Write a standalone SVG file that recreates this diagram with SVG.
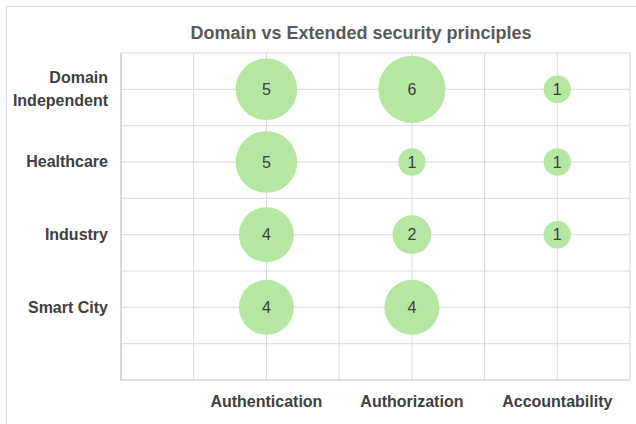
<svg xmlns="http://www.w3.org/2000/svg" width="636" height="424" viewBox="0 0 636 424">
<style>
.grid{stroke:#d9d9d9;stroke-width:1;fill:none}
.axis{stroke:#bfbfbf;stroke-width:1.2;fill:none}
.bub{fill:#b5e6a2}
.val{font-family:"Liberation Sans Narrow","Liberation Sans",sans-serif;font-size:16px;fill:#404040;text-anchor:middle}
.ylab{font-family:"Liberation Sans Narrow","Liberation Sans",sans-serif;font-size:16px;font-weight:bold;fill:#404040;text-anchor:end}
.xlab{font-family:"Liberation Sans Narrow","Liberation Sans",sans-serif;font-size:16px;font-weight:bold;fill:#404040;text-anchor:middle}
.title{font-family:"Liberation Sans Narrow","Liberation Sans",sans-serif;font-size:18px;font-weight:bold;fill:#595959;text-anchor:middle}
</style>
<rect x="0" y="0" width="636" height="424" fill="#ffffff"/>
<rect x="6.5" y="6.5" width="640" height="430" fill="#ffffff" stroke="#d9d9d9" stroke-width="1"/>
<text class="title" x="361" y="39">Domain vs Extended security principles</text>
<g id="grid">
<path class="grid" d="M121 53H630M121 89.3H630M121 125.7H630M121 162H630M121 198.3H630M121 234.7H630M121 271H630M121 307.3H630M121 343.7H630"/>
<path class="grid" d="M193.7 53V380M266.4 53V380M339.1 53V380M411.9 53V380M484.6 53V380M557.3 53V380M630 53V380"/>
<path class="axis" d="M121 53V380H630"/>
</g>
<g id="y-labels">
<text class="ylab" x="108" y="83">Domain</text>
<text class="ylab" x="108" y="106">Independent</text>
<text class="ylab" x="108" y="167">Healthcare</text>
<text class="ylab" x="108" y="240">Industry</text>
<text class="ylab" x="108" y="313">Smart City</text>
</g>
<g id="x-labels">
<text class="xlab" x="266.4" y="407">Authentication</text>
<text class="xlab" x="411.9" y="407">Authorization</text>
<text class="xlab" x="557.3" y="407">Accountability</text>
</g>
<g id="b-di-authn"><circle class="bub" cx="266.4" cy="89.3" r="30.8"/><text class="val" x="266.4" y="95">5</text></g>
<g id="b-di-authz"><circle class="bub" cx="411.9" cy="89.3" r="33.6"/><text class="val" x="411.9" y="95">6</text></g>
<g id="b-di-acc"><circle class="bub" cx="557.3" cy="89.3" r="13.7"/><text class="val" x="557.3" y="95">1</text></g>
<g id="b-hc-authn"><circle class="bub" cx="266.4" cy="162" r="30.8"/><text class="val" x="266.4" y="167.7">5</text></g>
<g id="b-hc-authz"><circle class="bub" cx="411.9" cy="162" r="13.7"/><text class="val" x="411.9" y="167.7">1</text></g>
<g id="b-hc-acc"><circle class="bub" cx="557.3" cy="162" r="13.7"/><text class="val" x="557.3" y="167.7">1</text></g>
<g id="b-in-authn"><circle class="bub" cx="266.4" cy="234.7" r="27.5"/><text class="val" x="266.4" y="240.4">4</text></g>
<g id="b-in-authz"><circle class="bub" cx="411.9" cy="234.7" r="19.4"/><text class="val" x="411.9" y="240.4">2</text></g>
<g id="b-in-acc"><circle class="bub" cx="557.3" cy="234.7" r="13.7"/><text class="val" x="557.3" y="240.4">1</text></g>
<g id="b-sc-authn"><circle class="bub" cx="266.4" cy="307.3" r="27.5"/><text class="val" x="266.4" y="313">4</text></g>
<g id="b-sc-authz"><circle class="bub" cx="411.9" cy="307.3" r="27.5"/><text class="val" x="411.9" y="313">4</text></g>
</svg>
